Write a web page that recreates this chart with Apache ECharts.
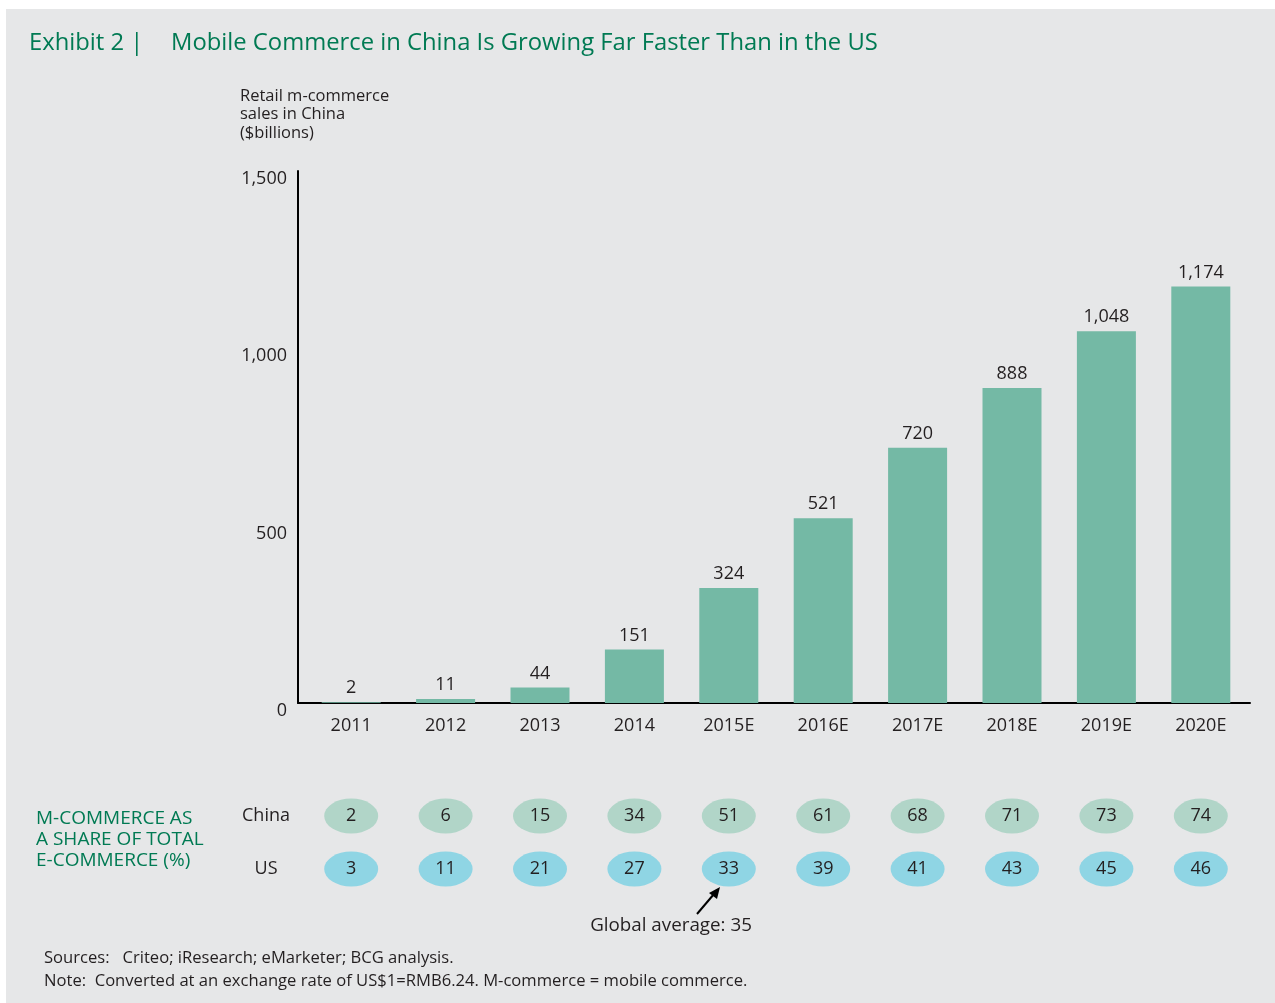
<!DOCTYPE html>
<html>
<head>
<meta charset="utf-8">
<script src="https://cdn.jsdelivr.net/npm/echarts@6/dist/echarts.min.js"></script>
<style>
html,body{margin:0;padding:0;background:#ffffff;}
#c{width:1275px;height:1003px;}
</style>
</head>
<body>
<div id="c"></div>
<script>
const categories = ['2011','2012','2013','2014','2015E','2016E','2017E','2018E','2019E','2020E'];
const salesChina = [2, 11, 44, 151, 324, 521, 720, 888, 1048, 1174];
const shareChina = [2, 6, 15, 34, 51, 61, 68, 71, 73, 74];
const shareUS = [3, 11, 21, 27, 33, 39, 41, 43, 45, 46];
const shareRows = ['China', 'US'];
const yMin = 0, yMax = 1500, yStep = 500;
const globalAverageText = 'Global average: 35';

const FONT = 'Open Sans';
const TXT = '#231f20';
const GREEN = '#007a53';
const fmt = v => Number(v).toLocaleString('en-US');
const ELLIPSE = 'path://M0,50 A50,50 0 1,1 100,50 A50,50 0 1,1 0,50 Z';

const chart = echarts.init(document.getElementById('c'), null, {renderer: 'canvas'});

const option = {
  animation: false,
  textStyle: {fontFamily: FONT, color: TXT},
  title: [
    {text: 'Exhibit 2 |', left: 29, top: 28, padding: 0, textStyle: {fontFamily: FONT, fontSize: 23.8, fontWeight: 'normal', color: GREEN, lineHeight: 30}},
    {text: 'Mobile Commerce in China Is Growing Far Faster Than in the US', left: 171, top: 28, padding: 0, textStyle: {fontFamily: FONT, fontSize: 23.8, fontWeight: 'normal', color: GREEN, lineHeight: 30}},
    {text: 'Retail m-commerce\nsales in China\n($billions)', left: 240, top: 87, padding: 0, textStyle: {fontFamily: FONT, fontSize: 16.5, fontWeight: 'normal', color: TXT, lineHeight: 18.5}},
    {text: 'M-COMMERCE AS\nA SHARE OF TOTAL\nE-COMMERCE (%)', left: 36, top: 808, padding: 0, textStyle: {fontFamily: FONT, fontSize: 19, fontWeight: 'normal', color: GREEN, lineHeight: 21}},
    {text: 'Sources:   Criteo; iResearch; eMarketer; BCG analysis.\nNote:  Converted at an exchange rate of US$1=RMB6.24. M-commerce = mobile commerce.', left: 44, top: 947, padding: 0, textStyle: {fontFamily: FONT, fontSize: 16.6, fontWeight: 'normal', color: TXT, lineHeight: 23}}
  ],
  graphic: [
    {type: 'rect', left: 6, top: 9, z: -100, silent: true, shape: {width: 1269, height: 994}, style: {fill: '#e6e7e8'}},
    {type: 'text', z: 10, style: {text: globalAverageText, x: 671, y: 926, align: 'center', verticalAlign: 'middle', font: '18.8px "Open Sans"', fill: TXT}},
    {type: 'line', z: 10, shape: {x1: 697, y1: 914, x2: 714, y2: 894}, style: {stroke: '#000', lineWidth: 2}},
    {type: 'polygon', z: 10, shape: {points: [[720, 887], [709, 893], [717, 899]]}, style: {fill: '#000'}}
  ],
  grid: [
    {left: 304, top: 171, width: 944, height: 532},
    {left: 298, top: 171, width: 952, height: 532},
    {left: 304, top: 789.5, width: 944, height: 106}
  ],
  xAxis: [
    {type: 'category', gridIndex: 0, data: categories, boundaryGap: true,
     axisLine: {show: false}, axisTick: {show: false}, splitLine: {show: false},
     axisLabel: {fontFamily: FONT, fontSize: 18, color: TXT, margin: 14}},
    {type: 'value', gridIndex: 1, min: 0, max: 1,
     axisLine: {show: true, lineStyle: {color: '#000', width: 2}}, axisTick: {show: false},
     axisLabel: {show: false}, splitLine: {show: false}},
    {type: 'category', gridIndex: 2, data: categories, show: false}
  ],
  yAxis: [
    {type: 'value', gridIndex: 0, min: yMin, max: yMax, interval: yStep, show: false, splitLine: {show: false}},
    {type: 'value', gridIndex: 1, min: yMin, max: yMax, interval: yStep,
     axisLine: {show: true, lineStyle: {color: '#000', width: 2}}, axisTick: {show: false}, splitLine: {show: false},
     axisLabel: {fontFamily: FONT, fontSize: 18, color: TXT, margin: 11, verticalAlign: 'top', lineHeight: 16, formatter: v => fmt(v)}},
    {type: 'category', gridIndex: 2, data: shareRows, inverse: true,
     axisLine: {show: false}, axisTick: {show: false}, splitLine: {show: false},
     axisLabel: {fontFamily: FONT, fontSize: 18, color: TXT, margin: 38, align: 'center'}}
  ],
  series: [
    {type: 'bar', xAxisIndex: 0, yAxisIndex: 0, data: salesChina, barWidth: 59,
     itemStyle: {color: '#74b9a5'},
     label: {show: true, position: 'top', distance: 5, fontFamily: FONT, fontSize: 18, color: TXT, formatter: p => fmt(p.value)}},
    {type: 'scatter', xAxisIndex: 2, yAxisIndex: 2, symbol: ELLIPSE, symbolSize: [54, 35],
     data: shareChina.map((v, i) => [categories[i], shareRows[0], v]),
     itemStyle: {color: '#b1d5c8', opacity: 1},
     label: {show: true, position: 'inside', fontFamily: FONT, fontSize: 18, color: TXT, formatter: p => String(p.value[2])}},
    {type: 'scatter', xAxisIndex: 2, yAxisIndex: 2, symbol: ELLIPSE, symbolSize: [54, 35],
     data: shareUS.map((v, i) => [categories[i], shareRows[1], v]),
     itemStyle: {color: '#8fd5e4', opacity: 1},
     label: {show: true, position: 'inside', fontFamily: FONT, fontSize: 18, color: TXT, formatter: p => String(p.value[2])}}
  ]
};
chart.setOption(option);
</script>
</body>
</html>
